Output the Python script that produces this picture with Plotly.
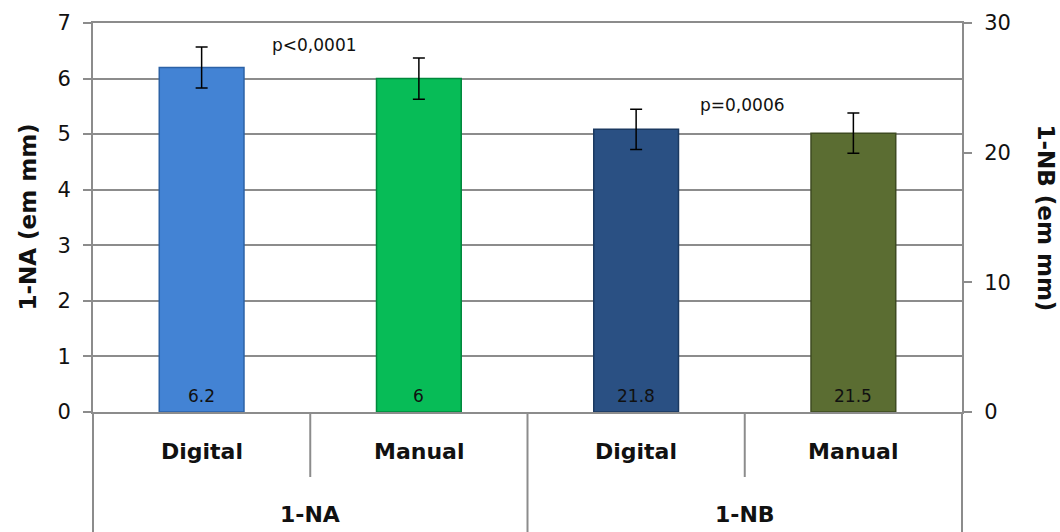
import plotly.graph_objects as go

# ---- data ----
groups = ["1-NA", "1-NA", "1-NB", "1-NB"]
methods = ["Digital", "Manual", "Digital", "Manual"]
na_values = [6.2, 6.0]
na_errors = [0.37, 0.37]
nb_values = [21.8, 21.5]
nb_errors = [1.55, 1.55]
na_labels = ["6.2", "6"]
nb_labels = ["21.8", "21.5"]
p_texts = ["p<0,0001", "p=0,0006"]
left_ticks = [0, 1, 2, 3, 4, 5, 6, 7]
right_ticks = [0, 10, 20, 30]

colors_fill = ["#4383D4", "#07BC57", "#2A5083", "#5B6D32"]
colors_line = ["#2C62A6", "#00893C", "#1B3960", "#3E4B21"]

FONT = "DejaVu Sans"
GRID = "#8c8c8c"
TXT = "#111111"

x_pos = list(range(len(methods)))
x_min, x_max = -0.5, len(methods) - 0.5

fig = go.Figure()

fig.add_trace(go.Bar(
    x=x_pos[:2], y=na_values, width=0.39,
    marker=dict(color=colors_fill[:2], line=dict(color=colors_line[:2], width=1.5)),
    error_y=dict(type="data", array=na_errors, color="black", thickness=1.5, width=6),
    yaxis="y", showlegend=False,
))
fig.add_trace(go.Bar(
    x=x_pos[2:], y=nb_values, width=0.39,
    marker=dict(color=colors_fill[2:], line=dict(color=colors_line[2:], width=1.5)),
    error_y=dict(type="data", array=nb_errors, color="black", thickness=1.5, width=6),
    yaxis="y2", showlegend=False,
))

L, R, T, B = 93, 98, 23, 120
W, H = 1060, 532
plot_h = H - T - B
plot_w = W - L - R

fig.update_layout(
    width=W, height=H,
    margin=dict(l=L, r=R, t=T, b=B, pad=0),
    paper_bgcolor="white", plot_bgcolor="white",
    font=dict(family=FONT, color=TXT),
    xaxis=dict(range=[x_min, x_max], showticklabels=False, showgrid=False,
               zeroline=False, showline=True, linecolor=GRID, linewidth=2,
               mirror=True, ticks="", automargin=False),
    yaxis=dict(range=[0, 7], tickvals=left_ticks, showgrid=True, gridcolor=GRID,
               gridwidth=1.5, zeroline=False, showline=True, linecolor=GRID,
               linewidth=2, ticks="outside", ticklen=8, tickcolor=GRID,
               tickwidth=1.5, tickfont=dict(size=21, family=FONT, color=TXT),
               ticklabelstandoff=8, automargin=False),
    yaxis2=dict(range=[0, 30], tickvals=right_ticks, overlaying="y", side="right",
                showgrid=False, zeroline=False, showline=True, linecolor=GRID,
                linewidth=2, ticks="outside", ticklen=8, tickcolor=GRID,
                tickwidth=1.5, tickfont=dict(size=21, family=FONT, color=TXT),
                ticklabelstandoff=8, automargin=False),
)

def to_paper_x(v):
    return (v - x_min) / (x_max - x_min)

inner_depth = -65 / plot_h
outer_depth = -(B + 5) / plot_h
shapes = []
for i in range(len(methods) + 1):
    xb = i - 0.5
    is_outer = (i == 0) or (i == len(methods)) or (groups[i - 1] != groups[i])
    shapes.append(dict(type="line", xref="paper", yref="paper",
                       x0=to_paper_x(xb), x1=to_paper_x(xb), y0=0,
                       y1=outer_depth if is_outer else inner_depth,
                       line=dict(color=GRID, width=2)))
fig.update_layout(shapes=shapes)

annotations = []
# value labels at the bottom of each bar
for i, lab in enumerate(na_labels):
    annotations.append(dict(x=x_pos[i], y=0, xref="x", yref="y", text=lab, showarrow=False,
                            xanchor="center", yanchor="middle", yshift=16,
                            font=dict(size=17, family=FONT, color=TXT)))
for j, lab in enumerate(nb_labels):
    annotations.append(dict(x=x_pos[2 + j], y=0, xref="x", yref="y2", text=lab, showarrow=False,
                            xanchor="center", yanchor="middle", yshift=16,
                            font=dict(size=17, family=FONT, color=TXT)))

for i, m in enumerate(methods):
    annotations.append(dict(x=i, y=-40 / plot_h, xref="x", yref="paper", text="<b>%s</b>" % m,
                            showarrow=False, xanchor="center", yanchor="middle",
                            font=dict(size=22, family=FONT, color=TXT)))
seen = []
for g in groups:
    if g in seen:
        continue
    seen.append(g)
    idx = [i for i, gg in enumerate(groups) if gg == g]
    annotations.append(dict(x=sum(idx) / len(idx), y=-102 / plot_h, xref="x", yref="paper",
                            text="<b>%s</b>" % g, showarrow=False, xanchor="center",
                            yanchor="middle", font=dict(size=22, family=FONT, color=TXT)))

annotations.append(dict(x=0.52, y=6.6, xref="x", yref="y", text=p_texts[0], showarrow=False,
                        xanchor="center", yanchor="middle",
                        font=dict(size=17, family=FONT, color=TXT)))
annotations.append(dict(x=2.49, y=23.7, xref="x", yref="y2", text=p_texts[1], showarrow=False,
                        xanchor="center", yanchor="middle",
                        font=dict(size=17, family=FONT, color=TXT)))

annotations.append(dict(x=-66 / plot_w, y=0.5, xref="paper", yref="paper",
                        text="<b>1-NA (em mm)</b>", textangle=-90, showarrow=False,
                        xanchor="center", yanchor="middle",
                        font=dict(size=23, family=FONT, color=TXT)))
annotations.append(dict(x=1 + 84 / plot_w, y=0.5, xref="paper", yref="paper",
                        text="<b>1-NB (em mm)</b>", textangle=90, showarrow=False,
                        xanchor="center", yanchor="middle",
                        font=dict(size=23, family=FONT, color=TXT)))
fig.update_layout(annotations=annotations)

fig.write_html("out.html", config={"displayModeBar": False},
               post_script="document.body.style.margin='0';document.body.style.padding='0';")
